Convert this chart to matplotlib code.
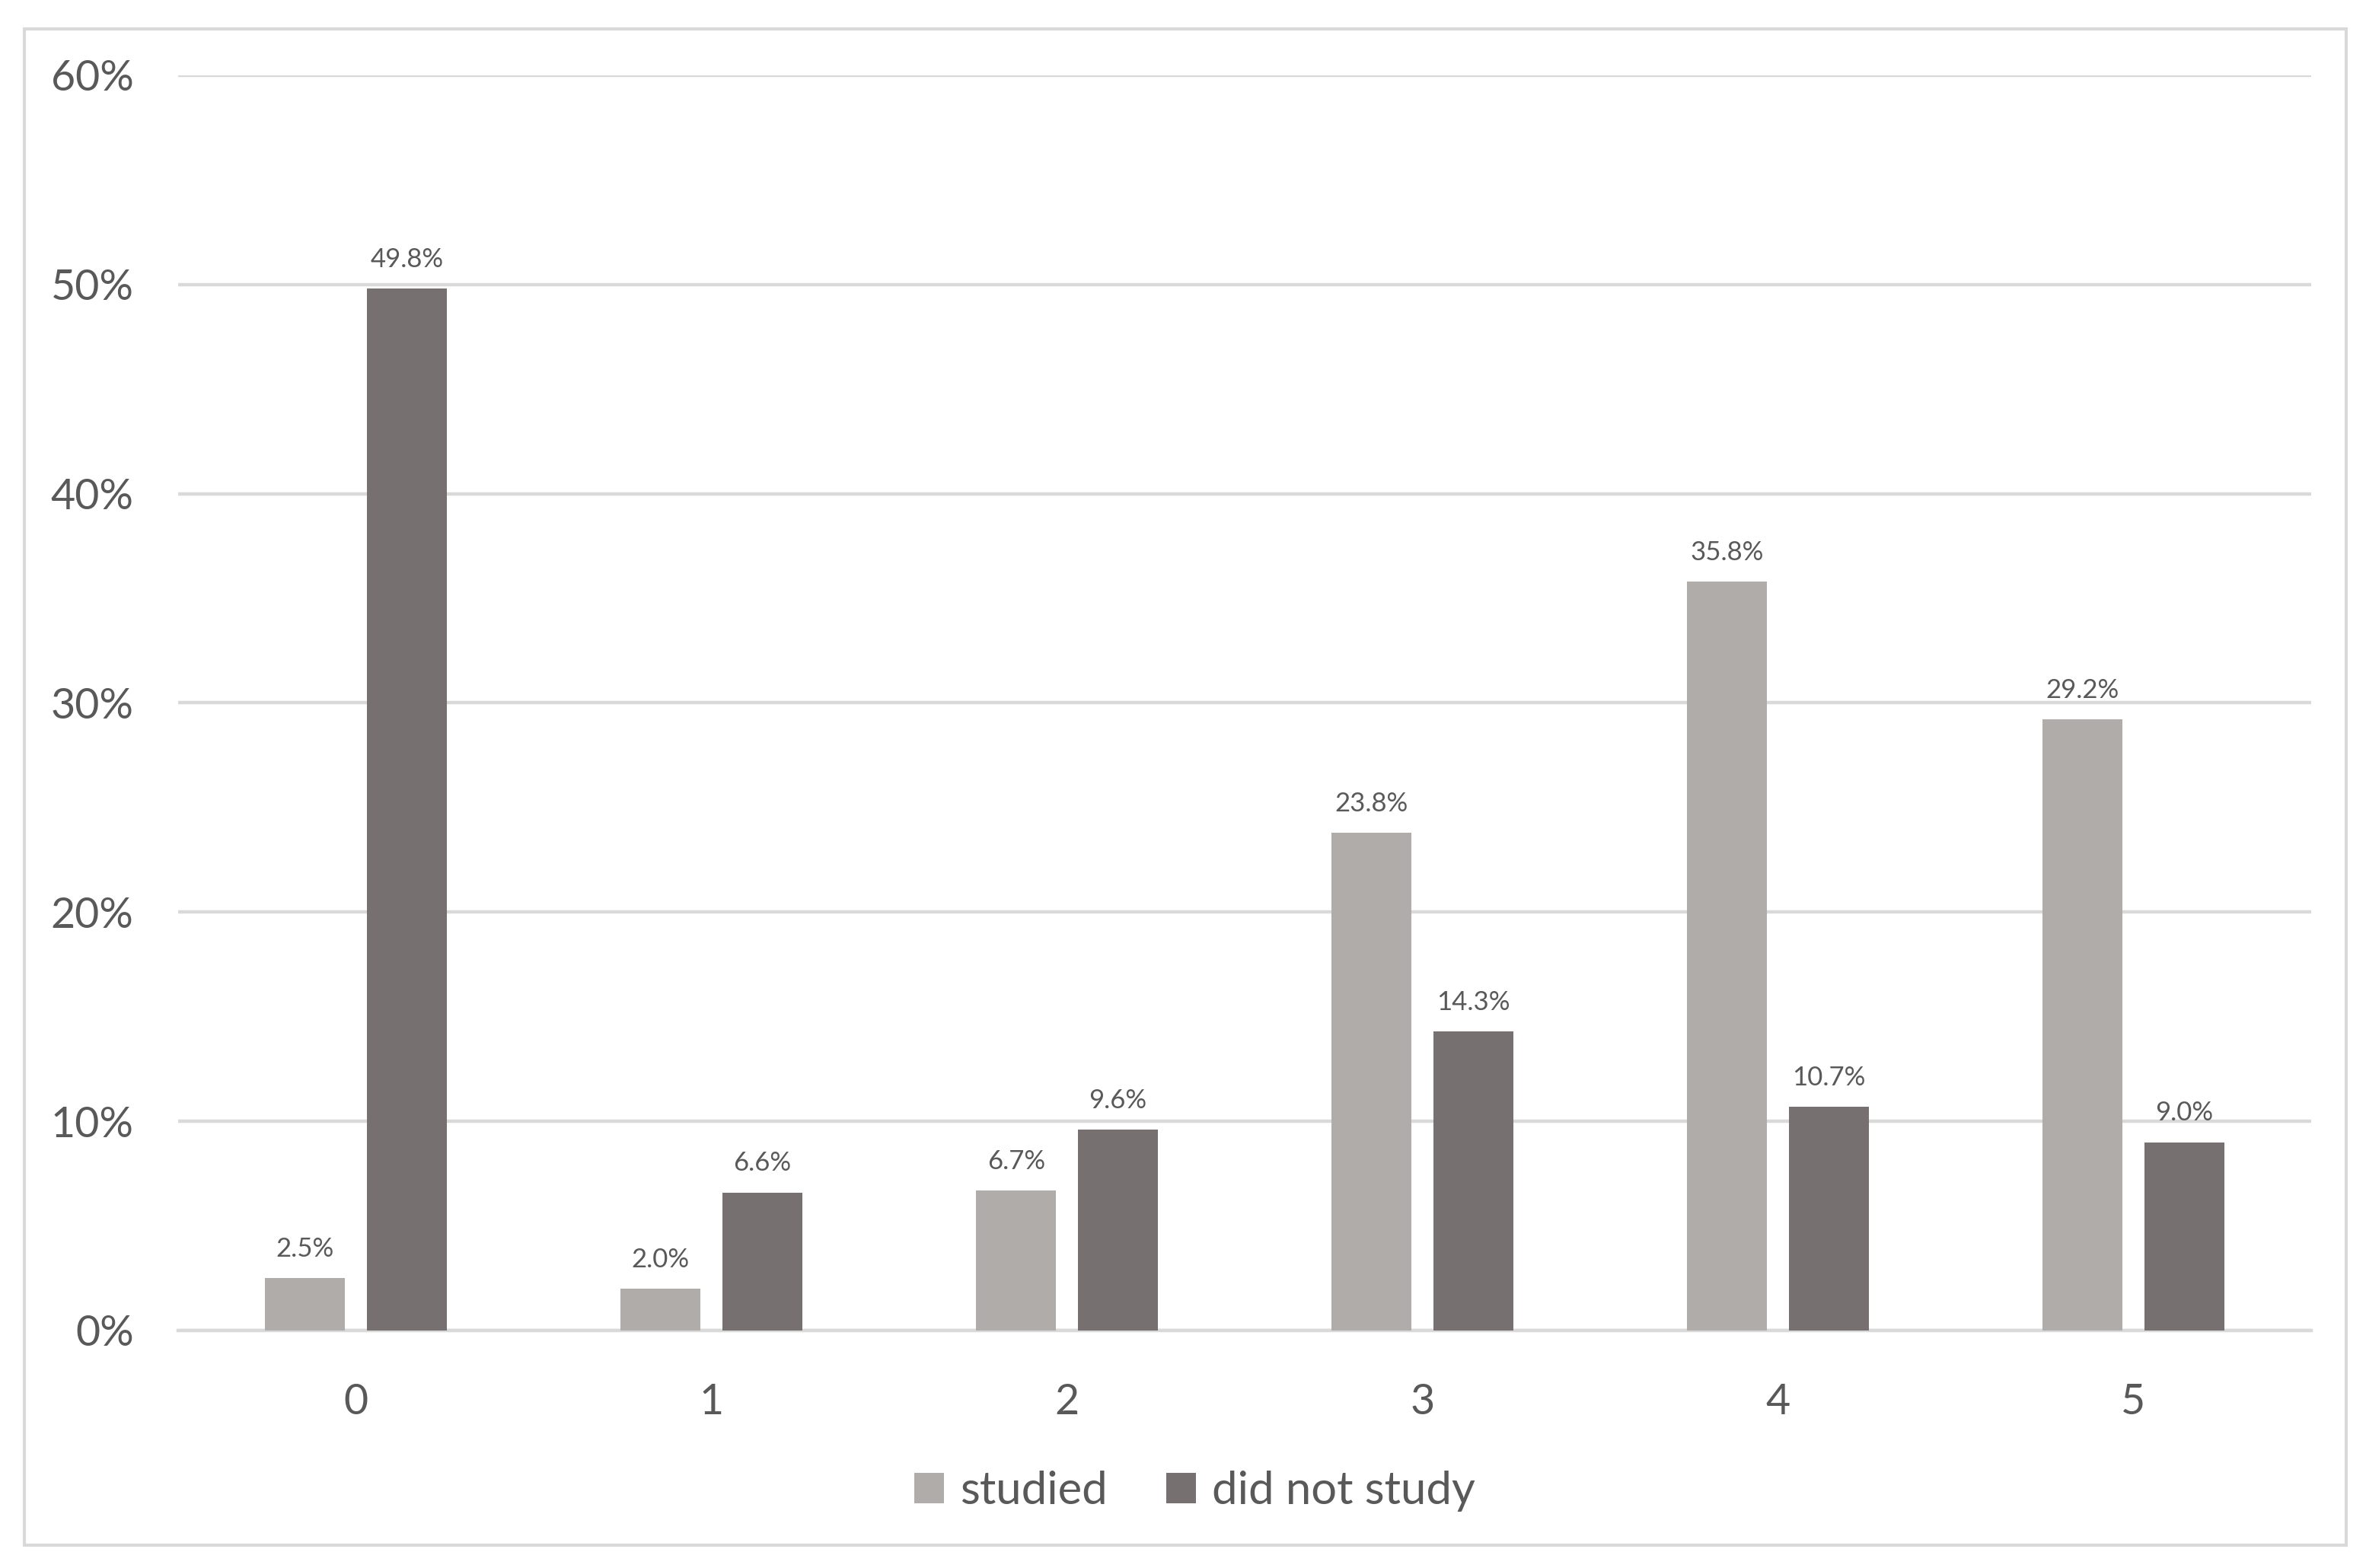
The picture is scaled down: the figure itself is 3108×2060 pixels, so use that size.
import numpy as np
import matplotlib
matplotlib.use("Agg")
import matplotlib.pyplot as plt
from matplotlib.patches import Rectangle
from matplotlib.ticker import FuncFormatter

# Daten
categories = ["0", "1", "2", "3", "4", "5"]
studied = [2.5, 2.0, 6.7, 23.8, 35.8, 29.2]
did_not_study = [49.8, 6.6, 9.6, 14.3, 10.7, 9.0]
series_names = ["studied", "did not study"]

col_light = "#B0ACA9"
col_dark = "#767170"
txt = "#595959"
grid = "#D9D9D9"

plt.rcParams["font.family"] = ["Lato", "DejaVu Sans"]

fig = plt.figure(figsize=(15.54, 10.3), dpi=200)
ax = fig.add_axes([0.0753, 0.1515, 0.9015, 0.8005])

x = np.arange(len(categories))
w = 0.225
off = 0.143

b1 = ax.bar(x - off, studied, w, color=col_light, label=series_names[0], zorder=3)
b2 = ax.bar(x + off, did_not_study, w, color=col_dark, label=series_names[1], zorder=3)

# Datenbeschriftungen
for bars, vals in ((b1, studied), (b2, did_not_study)):
    for rect, v in zip(bars, vals):
        ax.annotate(f"{v:.1f}%", (rect.get_x() + rect.get_width() / 2, v),
                    xytext=(0, 8), textcoords="offset points",
                    ha="center", va="bottom", fontsize=12.5, color=txt)

# Achsen
ax.set_xlim(-0.5, len(categories) - 0.5)
ax.set_ylim(0, 60)
ax.set_yticks(np.arange(0, 61, 10))
ax.yaxis.set_major_formatter(FuncFormatter(lambda v, p: f"{v:.0f}%"))
ax.set_xticks(x)
ax.set_xticklabels(categories)
ax.tick_params(axis="both", length=0, labelsize=20, colors=txt)
ax.tick_params(axis="y", pad=21)
ax.tick_params(axis="x", pad=25)
ax.grid(axis="y", color=grid, linewidth=1.6, zorder=0)
for s in ("top", "right", "left"):
    ax.spines[s].set_visible(False)
ax.spines["bottom"].set_color(grid)
ax.spines["bottom"].set_linewidth(1.6)

# Legende
fig.legend(loc="center", bbox_to_anchor=(0.505, 0.049), ncol=2, frameon=False,
           fontsize=21.5, labelcolor=txt, handlelength=0.65, handleheight=0.65,
           handletextpad=0.35, columnspacing=1.3)

# Rahmen um das Diagramm
fig.add_artist(Rectangle((0.0103, 0.0146), 0.9813, 0.967, transform=fig.transFigure,
                         fill=False, edgecolor=grid, linewidth=1.5))

fig.savefig("out.png", dpi=200, facecolor="white")
